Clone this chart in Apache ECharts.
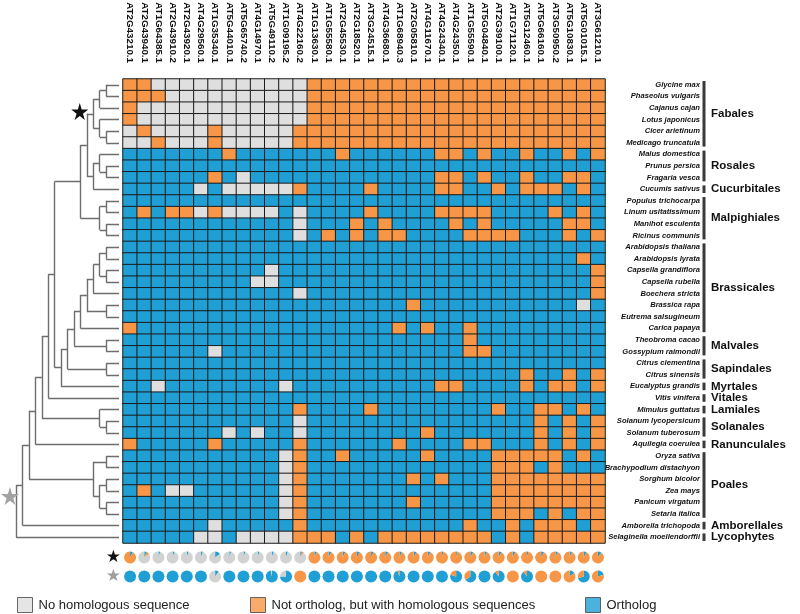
<!DOCTYPE html>
<html><head><meta charset="utf-8">
<script src="https://cdn.jsdelivr.net/npm/echarts@6/dist/echarts.min.js"></script>
<style>html,body{margin:0;padding:0;background:#fff}#c{width:800px;height:614px}</style>
</head><body><div id="c"></div>
<script>
// ---------- DATA ----------
const genes = ['AT2G43210.1','AT2G43940.1','AT1G64385.1','AT2G43910.2','AT2G43920.1','AT4G29560.1','AT1G35340.1','AT5G44010.1','AT5G65740.2','AT4G14970.1','AT5G49110.2','AT1G09195.2','AT4G22160.2','AT1G13630.1','AT1G55580.1','AT2G45530.1','AT2G18520.1','AT3G24515.1','AT4G36680.1','AT1G68940.3','AT2G05810.1','AT4G11670.1','AT4G24340.1','AT4G24350.1','AT1G55590.1','AT5G04840.1','AT2G39100.1','AT1G71120.1','AT5G12460.1','AT5G66160.1','AT3G50950.2','AT5G10830.1','AT5G01015.1','AT3G61210.1'];
const species = ['Glycine max','Phaseolus vulgaris','Cajanus cajan','Lotus japonicus','Cicer arietinum','Medicago truncatula','Malus domestica','Prunus persica','Fragaria vesca','Cucumis sativus','Populus trichocarpa','Linum usitatissimum','Manihot esculenta','Ricinus communis','Arabidopsis thaliana','Arabidopsis lyrata','Capsella grandiflora','Capsella rubella','Boechera stricta','Brassica rapa','Eutrema salsugineum','Carica papaya','Theobroma cacao','Gossypium raimondii','Citrus clementina','Citrus sinensis','Eucalyptus grandis','Vitis vinifera','Mimulus guttatus','Solanum lycopersicum','Solanum tuberosum','Aquilegia coerulea','Oryza sativa','Brachypodium distachyon','Sorghum bicolor','Zea mays','Panicum virgatum','Setaria italica','Amborella trichopoda','Selaginella moellendorffii'];
// G = no homologous sequence, O = not ortholog but homologous, B = ortholog (groups of 5 genes)
const cellRows = [
 'OOGGG GGGGG GGGOO OOOOO OOOOO OOOOO OOOO',
 'OOOGG GGGGG GGGOO OOOOO OOOOO OOOOO OOOO',
 'OGGGG GGGGG GGGOO OOOOO OOOOO OOOOO OOOO',
 'OGGGG GGGGG GGGOO OOOOO OOOOO OOOOO OOOO',
 'GOGGG GOGGG GGOOO OOOOO OOOOO OOOOO OOOO',
 'GGOGG GOGGG GGOOO OOOOO OOOOO OOOOO OOOO',
 'BBBBB BBOBB BBBBB OBBBB BBOOB OBBOB BOBO',
 'BBBBB BBBBB BBBBB BBBBB BBBBB BBBBB BBBB',
 'BBBBB BOBGB BBBBB BBBBB BBOOB OBBOB BOOB',
 'BBBBB GBGGG GGOBB BBOBB BBOOB BOBOO OBOB',
 'BBBBB BBBBB BBBBB BBBBB BBBBB BBBBB BBBB',
 'BOBOO GOGGG GBGBB BBOBB BBOOO OBBBB OBOB',
 'BBBBB BBBBB BBGBB BOBOB BBBOB OBBBB BOOB',
 'BBBBB BBBBB BBGBO BOBOO BBBBO OOOBB BOBO',
 'BBBBB BBBBB BBBBB BBBBB BBBBB BBBBB BBBB',
 'BBBBB BBBBB BBBBB BBBBB BBBBB BBBBB BBOB',
 'BBBBB BBBBB GBBBB BBBBB BBBBB BBBBB BBBO',
 'BBBBB BBBBG GBBBB BBBBB BBBBB BBBBB BBBO',
 'BBBBB BBBBB BBGBB BBBBB BBBBB BBBBB BBBO',
 'BBBBB BBBBB BBBBB BBBBB OBBBB BBBBB BBGB',
 'BBBBB BBBBB BBBBB BBBBB BBBBB BBBBB BBBB',
 'OBBBB BBBBB BBBBB BBBBO BOBBO BBBBB BBBB',
 'BBBBB BBBBB BBBBB BBBBB BBBBO BBBBB BBBB',
 'BBBBB BGBBB BBBBB BBBBB BBBBO OBBBB BBBB',
 'BBBBB BBBBB BBBBB BBBBB BBBBB BBBBB BBBB',
 'BBBBB BBBBB BBBBB BBBBB BBBBB BBBOB BOBO',
 'BBGBB BBBBB BGBBB BBBBB BBOOB BBBOB OOBO',
 'BBBBB BBBBB BBBBB BBBBB BBBBB BBBBB BBBB',
 'BBBBB BBBBB BBOBB BBOBB BBBBB BOBBO OBOB',
 'BBBBB BBBBB BBGBB BBBBB BBBBB BBBBO BOBO',
 'BBBBB BBGBG BBGBB BBBBB BOBBB BBBBO BOBO',
 'OBBBB BOBBB BBOBB BBBBO BBBBO OBBBO BOBO',
 'BBBBB BBBBB BGOBB OBBBB BOBBB BOOOO OBOB',
 'BBBBB BBBBB BGOBB BBBBB BBBBB BOOOB OBBB',
 'BBBBB BBBBB BGOBB BBBBB OBOBB BOOOO OOOO',
 'BOBGG BBBBB BGOBB BBBBB BBBBB BOOOO OOOO',
 'BBBBB BBBBB BGOBB BBBBB OBBBB BOOOO OOOO',
 'BBBBB BBBBB BGOBB BBBBB BBBBB BOOOB OBOO',
 'BBBBB BGBBB BBOBB BBBBB BBBBO BBOBO OOBO',
 'BBBBB GGBGG GGOOO BOBOO OOOOO OBOBO OOOO'
];
const groupNames = ['Fabales','Rosales','Cucurbitales','Malpighiales','Brassicales','Malvales','Sapindales','Myrtales','Vitales','Lamiales','Solanales','Ranunculales','Poales','Amborellales','Lycophytes'];
const groupFirstRow = [1,7,10,11,15,23,25,27,28,29,30,32,33,39,40];
const groupLastRow  = [6,9,10,14,22,24,26,27,28,29,31,32,38,39,40];
// species tree: [node depth level, child, child]; leaves are row numbers
const speciesTree = [0,
  [1,
    [2,
      [3,
        [4,
          [5,
            [6,
              [10,
                [11,
                  [12, [13, [14, 1, 2], 3], [13, 4, [14, 5, 6]]],
                  [12, [13, 7, [14, 8, 9]], 10]],
                [13, [14, 11, 12], [14, 13, 14]]],
              [7,
                [8,
                  [9,
                    [10,
                      [11, [12, [13, [14, 15, 16], [14, 17, 18]], 19], [14, 20, 21]],
                      22],
                    [14, 23, 24]],
                  [14, 25, 26]],
                27]],
            28],
          [13, 29, [14, 30, 31]]],
        32],
      [12, [14, 33, 34], [13, [14, 35, 36], [14, 37, 38]]]],
    39],
  40];
const leafLevel = 16;
// star marks on the tree: [level, row]
const blackStar = [[9.9, 3.3]];
const grayStar = [[-0.95, 36.45]];
// ancestral-state pies (percent): black star node (Fabales) and gray star node
const fabNoHom    = [0,85,95,95,95,95,85,95,95,95,95,95,90, 0,0,0,0,0,0,0,0,0,0,0,0,0,0,0,0,0,0,0,0,0];
const fabNonOrth  = [92,8,0,0,0,0,0,0,0,0,0,0,5, 93,92,93,92,93,92,93,92,93,96,96,92,93,92,93,96,92,93,93,92,90];
const fabOrth     = [8,7,5,5,5,5,15,5,5,5,5,5,5, 7,8,7,8,7,8,7,8,7,4,4,8,7,8,7,4,8,7,7,8,10];
const rootNoHom   = [0,0,0,0,0,0,90,0,0,0,3,25,0, 0,0,0,0,0,0,0,0,0,0,0,0,0,0,0,0,0,0,0,0,0];
const rootNonOrth = [0,0,0,0,0,0,0,0,0,0,0,0,100, 0,0,0,0,0,0,5,0,0,0,20,35,0,10,100,10,100,100,85,30,80];
const rootOrth    = [100,100,100,100,100,100,10,100,100,100,97,75,0, 100,100,100,100,100,100,95,100,100,100,80,65,100,90,0,90,0,0,15,70,20];
const legendNames = ['No homologous sequence','Not ortholog, but with homologous sequences','Ortholog'];

// ---------- STYLE ----------
const C_GRAY = '#e0dfdf', C_ORANGE = '#f79646', C_BLUE = '#1f9fd3', C_PIEGRAY = '#d2d2d2';
const FONT = '"Liberation Sans", Arial, sans-serif';
const codeValue = {G:0, O:1, B:2};

const heat = [];
cellRows.forEach((s, r) => {
  s.replace(/ /g, '').split('').forEach((ch, c) => heat.push([c, r, codeValue[ch]]));
});

const segs = [];
function layout(node) {
  if (typeof node === 'number') return {x: leafLevel, y: node};
  const lvl = node[0];
  const pos = node.slice(1).map(layout);
  pos.forEach(p => segs.push({coords: [[lvl, p.y], [p.x, p.y]]}));
  const ys = pos.map(p => p.y);
  segs.push({coords: [[lvl, Math.min(...ys)], [lvl, Math.max(...ys)]]});
  return {x: lvl, y: (ys[0] + ys[ys.length - 1]) / 2};
}
layout(speciesTree);

const pieData = [];
genes.forEach((g, i) => {
  pieData.push([i, 0, fabNoHom[i], fabNonOrth[i], fabOrth[i]]);
  pieData.push([i, 1, rootNoHom[i], rootNonOrth[i], rootOrth[i]]);
});
const groupData = groupNames.map((n, i) => [groupFirstRow[i], groupLastRow[i], i]);

const starPath = 'path://M50,0 L61,35 L98,35 L68,57 L79,91 L50,70 L21,91 L32,57 L2,35 L39,35 Z';

const chart = echarts.init(document.getElementById('c'), null, {renderer: 'canvas'});
const option = {
  backgroundColor: '#fff',
  animation: false,
  textStyle: {fontFamily: FONT},
  grid: [
    {left: 123, top: 79, width: 482, height: 464, containLabel: false, outerBoundsMode: 'none'},
    {left: 0, top: 79, width: 119, height: 464, containLabel: false, outerBoundsMode: 'none'},
    {left: 123, top: 548, width: 482, height: 38, containLabel: false, outerBoundsMode: 'none'},
    {left: 704, top: 79, width: 90, height: 464, containLabel: false, outerBoundsMode: 'none'}
  ],
  xAxis: [
    {type: 'category', data: genes, gridIndex: 0, position: 'top',
     axisLine: {show: false}, axisTick: {show: false}, splitLine: {show: false},
     axisLabel: {rotate: 90, interval: 0, margin: 16, fontSize: 9.8, fontWeight: 'bold', color: '#111', fontFamily: FONT}},
    {type: 'value', gridIndex: 1, min: -2.5, max: leafLevel, show: false},
    {type: 'category', data: genes, gridIndex: 2, show: false},
    {type: 'value', gridIndex: 3, min: 0, max: 1, show: false}
  ],
  yAxis: [
    {type: 'category', data: species, gridIndex: 0, inverse: true, position: 'right',
     axisLine: {show: false}, axisTick: {show: false}, splitLine: {show: false},
     axisLabel: {interval: 0, margin: 95, align: 'right', fontSize: 7.6, fontStyle: 'italic', fontWeight: 'bold', color: '#111', fontFamily: FONT}},
    {type: 'value', gridIndex: 1, min: 0.5, max: 40.5, inverse: true, show: false},
    {type: 'category', data: ['fab', 'root'], gridIndex: 2, inverse: true,
     axisLine: {show: false}, axisTick: {show: false}, splitLine: {show: false},
     axisLabel: {margin: 2, formatter: v => v === 'fab' ? '{k|★}' : '{g|★}',
       rich: {k: {color: '#111', fontSize: 17, fontFamily: 'DejaVu Sans'}, g: {color: '#9e9e9e', fontSize: 17, fontFamily: 'DejaVu Sans'}}}},
    {type: 'value', gridIndex: 3, min: 0.5, max: 40.5, inverse: true, show: false}
  ],
  visualMap: {type: 'piecewise', show: false, seriesIndex: 0, dimension: 2,
    pieces: [{value: 0, color: C_GRAY}, {value: 1, color: C_ORANGE}, {value: 2, color: C_BLUE}]},
  legend: [0, 1, 2].map(i => ({
    data: [legendNames[i]], left: [12, 245, 580][i], top: 592, itemWidth: 15, itemHeight: 15,
    icon: 'rect', itemStyle: {borderColor: '#444', borderWidth: 1}, selectedMode: false,
    textStyle: {fontSize: 13, color: '#222', fontFamily: FONT, padding: [0, 0, 0, 1]}
  })),
  series: [
    {type: 'heatmap', xAxisIndex: 0, yAxisIndex: 0, data: heat,
     itemStyle: {borderColor: '#1c1c1c', borderWidth: 1}, emphasis: {disabled: true}},
    {type: 'lines', coordinateSystem: 'cartesian2d', xAxisIndex: 1, yAxisIndex: 1, data: segs,
     lineStyle: {color: '#6e6e6e', width: 1.4, opacity: 1}, silent: true},
    {type: 'scatter', xAxisIndex: 1, yAxisIndex: 1, data: blackStar, symbol: starPath, symbolSize: 17,
     itemStyle: {color: '#111', opacity: 1}, silent: true},
    {type: 'scatter', xAxisIndex: 1, yAxisIndex: 1, data: grayStar, symbol: starPath, symbolSize: 18,
     itemStyle: {color: '#a3a3a3', opacity: 1}, silent: true},
    {type: 'custom', xAxisIndex: 2, yAxisIndex: 2, data: pieData, silent: true,
     renderItem: function (params, api) {
       const p = api.coord([api.value(0), api.value(1)]);
       const vals = [api.value(2), api.value(3), api.value(4)];
       const cols = [C_PIEGRAY, C_ORANGE, C_BLUE];
       const tot = vals[0] + vals[1] + vals[2];
       const order = [2, 1, 0];
       let a = -Math.PI / 2;
       const children = [];
       order.forEach(k => {
         if (vals[k] > 0) {
           const da = vals[k] / tot * Math.PI * 2;
           children.push({type: 'sector', shape: {cx: p[0], cy: p[1], r: 6, r0: 0, startAngle: a, endAngle: a + da, clockwise: true},
             style: {fill: cols[k]}});
           a += da;
         }
       });
       return {type: 'group', children: children};
     }},
    {type: 'custom', xAxisIndex: 3, yAxisIndex: 3, data: groupData, silent: true,
     renderItem: function (params, api) {
       const a = api.coord([0, api.value(0) - 0.5]);
       const b = api.coord([0, api.value(1) + 0.5]);
       return {type: 'group', children: [
         {type: 'line', shape: {x1: a[0], y1: a[1] + 2, x2: b[0], y2: b[1] - 2}, style: {stroke: '#3a3a3a', lineWidth: 3}},
         {type: 'text', x: a[0] + 7, y: (a[1] + b[1]) / 2,
          style: {text: groupNames[api.value(2)], fill: '#111', font: 'bold 11.5px ' + FONT, align: 'left', verticalAlign: 'middle', textAlign: 'left', textVerticalAlign: 'middle'}}
       ]};
     }},
    {type: 'scatter', name: legendNames[0], xAxisIndex: 1, yAxisIndex: 1, data: [], itemStyle: {color: C_GRAY}},
    {type: 'scatter', name: legendNames[1], xAxisIndex: 1, yAxisIndex: 1, data: [], itemStyle: {color: C_ORANGE}},
    {type: 'scatter', name: legendNames[2], xAxisIndex: 1, yAxisIndex: 1, data: [], itemStyle: {color: C_BLUE}}
  ]
};
chart.setOption(option);
</script>
</body></html>
